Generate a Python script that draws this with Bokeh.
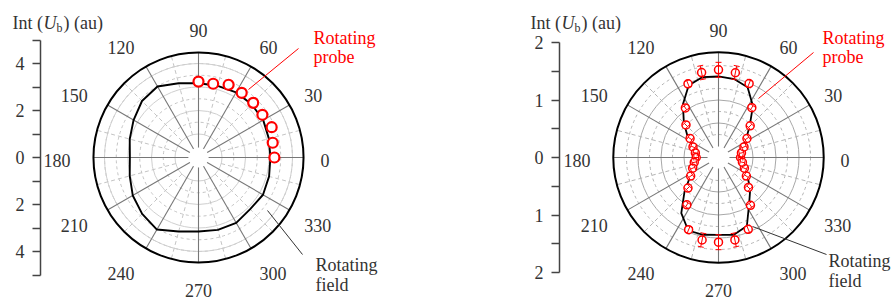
import numpy as np
from bokeh.plotting import figure
from bokeh.layouts import row
from bokeh.models import Range1d, FixedTicker
from bokeh.embed import file_html
from bokeh.resources import INLINE
from bokeh.core.properties import value

FONT = "Liberation Serif"
TXT = "#333333"

# ---------------- data ----------------
spoke_angles = [0, 30, 60, 90, 120, 150, 180, 210, 240, 270, 300, 330]
spoke_labels = ["0", "30", "60", "90", "120", "150", "180", "210", "240", "270", "300", "330"]
minor_spoke_angles = [15, 45, 75, 105, 135, 165, 195, 225, 255, 285, 315, 345]

# left panel: Int(U_b) in au
left_field_angle = [0, 15, 30, 45, 60, 75, 90, 105, 120, 135, 150, 165,
                    180, 195, 210, 225, 240, 255, 270, 285, 300, 315, 330, 345]
left_field_r = [3.06, 3.10, 3.18, 3.20, 3.20, 3.16, 3.16, 3.27, 3.49, 3.40, 3.19, 3.03,
                2.92, 3.03, 3.23, 3.39, 3.54, 3.26, 3.15, 3.19, 3.21, 3.11, 3.17, 3.11]
left_probe_angle = [0, 11.25, 22.5, 33.75, 45, 56.25, 67.5, 78.75, 90]
left_probe_r = [3.23, 3.22, 3.37, 3.27, 3.29, 3.31, 3.35, 3.20, 3.23]
left_axis_ticks = [-5, -4, -3, -2, -1, 0, 1, 2, 3, 4, 5]
left_axis_labels = ["", "4", "", "2", "", "0", "", "2", "", "4", ""]

# right panel
right_angle = [0, 11.25, 22.5, 33.75, 45, 56.25, 67.5, 78.75, 90, 101.25, 112.5, 123.75,
               135, 146.25, 157.5, 168.75, 180, 191.25, 202.5, 213.75, 225, 236.25, 247.5, 258.75,
               270, 281.25, 292.5, 303.75, 315, 326.25, 337.5, 348.75]
right_field_r = [0.365, 0.383, 0.452, 0.574, 0.765, 1.078, 1.322, 1.391, 1.409, 1.426, 1.357, 1.113,
                 0.852, 0.643, 0.487, 0.400, 0.365, 0.383, 0.470, 0.591, 0.835, 1.165, 1.374, 1.370,
                 1.344, 1.370, 1.290, 0.960, 0.780, 0.609, 0.470, 0.400]
right_probe_r = [0.383, 0.407, 0.480, 0.595, 0.779, 1.043, 1.391, 1.503, 1.525, 1.506, 1.386, 1.037,
                 0.800, 0.595, 0.480, 0.410, 0.388, 0.430, 0.487, 0.583, 0.751, 0.990, 1.358, 1.463,
                 1.473, 1.461, 1.351, 1.000, 0.737, 0.583, 0.487, 0.424]
right_probe_err = [0.04, 0.04, 0.04, 0.04, 0.04, 0.04, 0.06, 0.12, 0.13, 0.12, 0.06, 0.04,
                   0.04, 0.04, 0.04, 0.04, 0.04, 0.04, 0.04, 0.04, 0.04, 0.04, 0.06, 0.12,
                   0.13, 0.12, 0.06, 0.04, 0.04, 0.04, 0.04, 0.04]
right_axis_ticks = [-2, -1.5, -1, -0.5, 0, 0.5, 1, 1.5, 2]
right_axis_labels = ["2", "", "1", "", "0", "", "1", "", "2"]

# ---------------- layout constants (page pixels) ----------------
TOP, BOTTOM, CY = 0, 307, 157


def pol(ang_deg, r):
    a = np.radians(np.asarray(ang_deg, dtype=float))
    r = np.asarray(r, dtype=float)
    return r * np.cos(a), r * np.sin(a)


def make_panel(fig_x0, fig_w, axis_x, cx, s, outer, solid_r, dashed_r, inner_r,
               minor_r0, ticks, tick_labels, circ_col, dash_col, title_x):
    frame_x1 = fig_x0 + fig_w
    p = figure(width=fig_w, height=BOTTOM - TOP,
               x_range=Range1d((fig_x0 - cx) / s, (frame_x1 - cx) / s),
               y_range=Range1d((CY - BOTTOM) / s, (CY - TOP) / s),
               x_axis_location=None, y_axis_location="left",
               toolbar_location=None, output_backend="svg", title=None,
               min_border_left=0, min_border_right=0,
               min_border_top=0, min_border_bottom=0)
    p.xgrid.visible = False
    p.ygrid.visible = False
    p.outline_line_color = None
    p.background_fill_color = "white"
    p.border_fill_color = "white"

    ax = p.yaxis[0]
    ax.fixed_location = (axis_x - cx) / s
    ax.bounds = (ticks[0], ticks[-1])
    ax.ticker = FixedTicker(ticks=ticks, minor_ticks=[])
    ax.major_label_overrides = {t: l for t, l in zip(ticks, tick_labels)}
    ax.axis_line_color = "#444444"
    ax.axis_line_width = 1.5
    ax.major_tick_line_color = "#444444"
    ax.major_tick_line_width = 1.5
    ax.major_tick_in = 0
    ax.major_tick_out = 8
    ax.minor_tick_line_color = None
    ax.major_label_standoff = 8
    ax.major_label_text_font = FONT
    ax.major_label_text_font_size = "18px"
    ax.major_label_text_color = TXT

    def d(px, py):
        return (px - cx) / s, (CY - py) / s

    # grid circles
    p.circle(x=[0] * len(dashed_r), y=[0] * len(dashed_r), radius=dashed_r,
             fill_color=None, line_color=dash_col, line_width=1, line_dash="3 3")
    p.circle(x=[0] * len(solid_r), y=[0] * len(solid_r), radius=solid_r,
             fill_color=None, line_color=circ_col, line_width=1)
    # minor dashed spokes
    x0, y0 = pol(minor_spoke_angles, [minor_r0] * 12)
    x1, y1 = pol(minor_spoke_angles, [outer] * 12)
    p.segment(x0, y0, x1, y1, line_color=dash_col, line_width=1, line_dash="4 3")
    # main spokes
    x1, y1 = pol(spoke_angles, [outer] * 12)
    p.segment([0] * 12, [0] * 12, x1, y1, line_color="#777777", line_width=1.1)
    # inner white disc
    p.circle(x=[0], y=[0], radius=[inner_r], fill_color="white", line_color=None)
    # outer circle
    p.circle(x=[0], y=[0], radius=[outer], fill_color=None, line_color="black", line_width=2)

    # angle labels
    R = 122.0
    groups = {"left": ([], [], []), "right": ([], [], []), "center": ([], [], [])}
    for a, lab in zip(spoke_angles, spoke_labels):
        c, sn = np.cos(np.radians(a)), np.sin(np.radians(a))
        if abs(c) < 0.01:
            key, lx = "center", 0.0
        elif c > 0:
            key, lx = "left", R * c
        else:
            key, lx = "right", (R + 6) * c
        ly = (R + 8) * sn - 3
        g = groups[key]
        g[0].append(lx / s)
        g[1].append(ly / s)
        g[2].append(lab)
    for key, (xs, ys, ts) in groups.items():
        p.text(x=xs, y=ys, text=ts, text_align=key, text_baseline="middle",
               text_font=value(FONT), text_font_size="18px", text_color=TXT)

    # title "Int (U_b) (au)"
    tx, ty = d(title_x, 22)
    for txt, dx, dy, size, style in [("Int (", 0, 0, "18px", "normal"),
                                     ("U", 31, 0, "18px", "italic"),
                                     ("b", 44, 5, "12px", "normal"),
                                     (") (au)", 51, 0, "18px", "normal")]:
        p.text(x=[tx], y=[ty], x_offset=dx, y_offset=dy, text=[txt],
               text_font=value(FONT), text_font_size=size, text_font_style=style,
               text_color=TXT, text_align="left", text_baseline="alphabetic")
    return p, d


# ---------------- left panel ----------------
s1 = 23.5
p1, d1 = make_panel(fig_x0=0, fig_w=400, axis_x=40, cx=198, s=s1, outer=4.47,
                    solid_r=[1, 2, 3, 4], dashed_r=[1.5, 2.5, 3.5, 4.0],
                    inner_r=0.43, minor_r0=1.0, ticks=left_axis_ticks,
                    tick_labels=left_axis_labels, circ_col="#cfcfcf", dash_col="#c4c4c4",
                    title_x=12)
fx, fy = pol(left_field_angle + left_field_angle[:1], left_field_r + left_field_r[:1])
p1.line(fx, fy, line_color="black", line_width=1.9)
px_, py_ = pol(left_probe_angle, left_probe_r)
p1.scatter(px_, py_, marker="circle", size=10, line_color="red", line_width=2.2, fill_color="white")

a0, b0 = d1(248, 89)
a1, b1 = d1(298, 48)
p1.segment([a0], [b0], [a1], [b1], line_color="red", line_width=1)
a0, b0 = d1(267, 210)
a1, b1 = d1(302, 254)
p1.segment([a0], [b0], [a1], [b1], line_color="#333333", line_width=1)
for txt, (x, y), col in [("Rotating", (313, 37), "red"), ("probe", (313, 56), "red"),
                         ("Rotating", (315, 264), TXT), ("field", (315, 284), TXT)]:
    tx, ty = d1(x, y)
    p1.text(x=[tx], y=[ty], text=[txt], text_align="left", text_baseline="alphabetic",
            text_font=value(FONT), text_font_size="18px", text_color=col)

# ---------------- right panel ----------------
s2 = 57.5
p2, d2 = make_panel(fig_x0=400, fig_w=495, axis_x=559, cx=718, s=s2, outer=1.83,
                    solid_r=[0.6, 1.0, 1.4], dashed_r=[0.4, 0.8, 1.2, 1.6],
                    inner_r=0.19, minor_r0=0.4, ticks=right_axis_ticks,
                    tick_labels=right_axis_labels, circ_col="#a8a8a8", dash_col="#b4b4b4",
                    title_x=530)
fx, fy = pol(right_angle + right_angle[:1], right_field_r + right_field_r[:1])
p2.line(fx, fy, line_color="black", line_width=1.8)
px_, py_ = pol(right_angle, right_probe_r)
p2.scatter(px_, py_, marker="circle", size=8, line_color="red", line_width=1.5, fill_color="white")
# radial error bars with caps
ang = np.radians(np.array(right_angle))
rr = np.array(right_probe_r)
ee = np.array(right_probe_err)
ux, uy = np.cos(ang), np.sin(ang)
vx, vy = -uy, ux
cap = 3.0 / s2
p2.segment((rr - ee) * ux, (rr - ee) * uy, (rr + ee) * ux, (rr + ee) * uy, line_color="red", line_width=1)
for sign in (-1, 1):
    re_ = rr + sign * ee
    p2.segment(re_ * ux - cap * vx, re_ * uy - cap * vy, re_ * ux + cap * vx, re_ * uy + cap * vy,
               line_color="red", line_width=1)

a0, b0 = d2(758, 98)
a1, b1 = d2(813, 52)
p2.segment([a0], [b0], [a1], [b1], line_color="red", line_width=1)
a0, b0 = d2(752, 226)
a1, b1 = d2(826, 254)
p2.segment([a0], [b0], [a1], [b1], line_color="#333333", line_width=1)
for txt, (x, y), col in [("Rotating", (822, 37), "red"), ("probe", (822, 56), "red"),
                         ("Rotating", (828, 260), TXT), ("field", (828, 280), TXT)]:
    tx, ty = d2(x, y)
    p2.text(x=[tx], y=[ty], text=[txt], text_align="left", text_baseline="alphabetic",
            text_font=value(FONT), text_font_size="18px", text_color=col)

layout = row(p1, p2, spacing=0)
open("out.html", "w").write(file_html(layout, INLINE))
